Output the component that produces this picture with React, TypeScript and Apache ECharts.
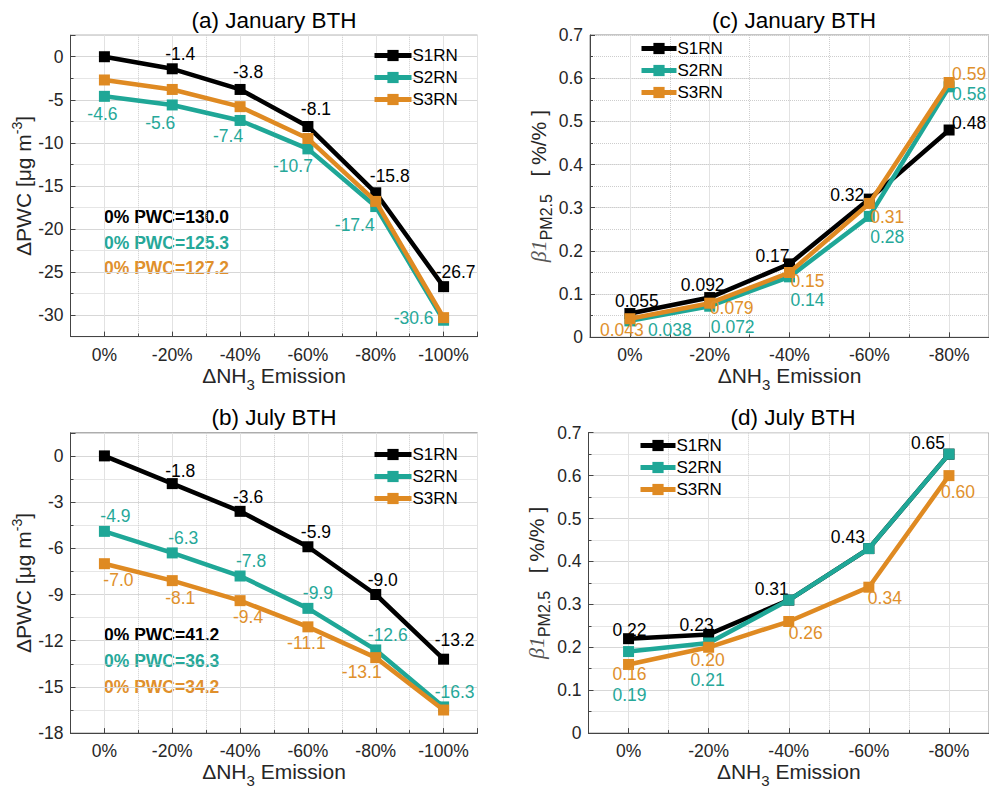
import React, { useEffect, useRef } from 'react';
import * as echarts from 'echarts';

// ---------- data ----------
const CATS_PWC = ['0%', '-20%', '-40%', '-60%', '-80%', '-100%'];
const CATS_BETA = ['0%', '-20%', '-40%', '-60%', '-80%'];
const SERIES_NAMES = ['S1RN', 'S2RN', 'S3RN'];

const JAN_PWC_S1 = [0, -1.4, -3.8, -8.1, -15.8, -26.7];
const JAN_PWC_S2 = [-4.6, -5.6, -7.4, -10.7, -17.4, -30.6];
const JAN_PWC_S3 = [-2.7, -3.8, -5.8, -9.5, -16.8, -30.3];

const JUL_PWC_S1 = [0, -1.8, -3.6, -5.9, -9.0, -13.2];
const JUL_PWC_S2 = [-4.9, -6.3, -7.8, -9.9, -12.6, -16.3];
const JUL_PWC_S3 = [-7.0, -8.1, -9.4, -11.1, -13.1, -16.5];

const JAN_BETA_S1 = [0.055, 0.092, 0.17, 0.32, 0.48];
const JAN_BETA_S2 = [0.038, 0.072, 0.14, 0.28, 0.58];
const JAN_BETA_S3 = [0.043, 0.079, 0.15, 0.31, 0.59];

const JUL_BETA_S1 = [0.22, 0.23, 0.31, 0.43, 0.65];
const JUL_BETA_S2 = [0.19, 0.21, 0.31, 0.43, 0.65];
const JUL_BETA_S3 = [0.16, 0.2, 0.26, 0.34, 0.6];

const PWC0_JAN = [130.0, 125.3, 127.2];
const PWC0_JUL = [41.2, 36.3, 34.2];

const TITLES = ['(a) January BTH', '(b) July BTH', '(c) January BTH', '(d) July BTH'];

// ---------- styles ----------
const FONT = 'Liberation Sans, Arial, Helvetica, sans-serif';
const LINE_COLORS = ['#000000', '#1fa797', '#df8a22'];
const TEXT_COLORS = ['#000000', '#26a899', '#e0902c'];
const TEXT_DARK = '#262626';
const LABEL_SIZE = 17.5;
const TICK_SIZE = 17.5;

type Off = [number, number] | null;
// label centre offset relative to the point (px)
const OFF_A: Off[][] = [
  [null, [8, -15], [8, -17], [8, -17], [14, -17], [12, -15]],
  [[-2, 18], [-12, 18], [-12, 16], [-15, 17], [-21, 18], [-30, -2]],
  [null, null, null, null, null, null],
];
const OFF_B: Off[][] = [
  [null, [8, -13], [8, -14.5], [8, -15], [7, -14.5], [11, -19]],
  [[11, -15], [11, -15], [11, -15], [10, -15], [12, -15], [11, -15]],
  [[14, 16], [8, 17], [8, 16], [-1.5, 16], [-14, 14], null],
];
const OFF_C: Off[][] = [
  [[7, -13], [-7, -12.5], [-17, -8], [-22, -4], [20, -7]],
  [[40, 9], [23, 21], [18, 23.5], [18, 21], [20, 7]],
  [[-8, 11], [22, 5], [18, 8], [18, 14], [20, -9]],
];
const OFF_D: Off[][] = [
  [[1, -9], [-12, -9], [-17, -11], [-21, -12], [-21, -11]],
  [[1, 43], [-1, 37], null, null, null],
  [[1, 10], [-1, 13], [17, 11.5], [16, 10.5], [9, 16]],
];

const PWC_YNAME = '{t|ΔPWC [μg m}{sup|-3}{t|]}';
const BETA_YNAME = '{b|β1}{s|PM2.5}{t|   [ %/% ]}';
const XNAME = '{t|ΔNH}{sub|3}{t| Emission}';

const panels = [
  {
    grid: { left: 70.5, top: 35.2, width: 407, height: 301.4 },
    cats: CATS_PWC,
    series: [JAN_PWC_S1, JAN_PWC_S2, JAN_PWC_S3],
    offsets: OFF_A,
    yMin: -32.5, yMax: 2.5, major: 5, minor: 2.5,
    fmt: (v: number) => v.toFixed(1),
    yName: PWC_YNAME, yNameGap: 29,
    legend: { left: 372, top: 47, itemWidth: 37 },
    titleX: 274, titleY: 8.5,
    ann: PWC0_JAN, annX: 104, annY: [217, 243, 268],
  },
  {
    grid: { left: 70.5, top: 432.8, width: 407, height: 302.2 },
    cats: CATS_PWC,
    series: [JUL_PWC_S1, JUL_PWC_S2, JUL_PWC_S3],
    offsets: OFF_B,
    yMin: -18, yMax: 1.5, major: 3, minor: 1.5,
    fmt: (v: number) => v.toFixed(1),
    yName: PWC_YNAME, yNameGap: 29,
    legend: { left: 372, top: 446, itemWidth: 37 },
    titleX: 274, titleY: 405.5,
    ann: PWC0_JUL, annX: 104, annY: [635, 661, 687],
  },
  {
    grid: { left: 590, top: 35, width: 408.5, height: 302.3 },
    cats: CATS_BETA,
    series: [JAN_BETA_S1, JAN_BETA_S2, JAN_BETA_S3],
    offsets: OFF_C,
    yMin: 0, yMax: 0.7, major: 0.1, minor: 0.05,
    fmt: (v: number) => v.toPrecision(2),
    yName: BETA_YNAME, yNameGap: 36,
    legend: { left: 639, top: 40, itemWidth: 35 },
    titleX: 794, titleY: 8.5,
    ann: null, annX: 0, annY: [],
  },
  {
    grid: { left: 588.5, top: 432.7, width: 408, height: 301.6 },
    cats: CATS_BETA,
    series: [JUL_BETA_S1, JUL_BETA_S2, JUL_BETA_S3],
    offsets: OFF_D,
    yMin: 0, yMax: 0.7, major: 0.1, minor: 0.05,
    fmt: (v: number) => v.toPrecision(2),
    yName: BETA_YNAME, yNameGap: 36,
    legend: { left: 638, top: 437, itemWidth: 35 },
    titleX: 793, titleY: 406,
    ann: null, annX: 0, annY: [],
  },
];

const isMultiple = (v: number, step: number) => Math.abs(v / step - Math.round(v / step)) < 1e-6;
const fmtTick = (v: number, step: number) => {
  if (!isMultiple(v, step)) return '';
  const r = Math.round(v * 1e6) / 1e6;
  return String(r);
};

function buildOption() {
  const grid: any[] = [];
  const xAxis: any[] = [];
  const yAxis: any[] = [];
  const series: any[] = [];
  const legend: any[] = [];
  const title: any[] = [];
  const graphic: any[] = [];

  panels.forEach((p, pi) => {
    grid.push({ ...p.grid, show: true, borderColor: '#8a8a8a', borderWidth: 1, backgroundColor: 'transparent' });
    const n = p.cats.length;
    // category axis: labels, minor ticks and dotted minor grid
    xAxis.push({
      type: 'category', gridIndex: pi, position: 'bottom', data: p.cats, boundaryGap: true,
      axisLine: { show: true, onZero: false, lineStyle: { color: '#444', width: 1 } },
      axisTick: { show: true, inside: true, length: 3, lineStyle: { color: '#444' } },
      splitLine: { show: true, lineStyle: { color: '#cdcdcd', type: 'dotted', width: 1 } },
      axisLabel: { interval: 0, color: TEXT_DARK, fontSize: TICK_SIZE, fontFamily: FONT, margin: 9 },
      name: XNAME, nameLocation: 'middle', nameGap: 21,
      nameTextStyle: {
        color: TEXT_DARK,
        rich: {
          t: { fontSize: 21, fontFamily: FONT, color: TEXT_DARK },
          sub: { fontSize: 15, fontFamily: FONT, color: TEXT_DARK, padding: [18, 0, 0, 0] },
        },
      },
    });
    // value axis: solid major grid at category centres
    xAxis.push({
      type: 'value', gridIndex: pi, position: 'bottom', min: -0.5, max: n - 0.5,
      minInterval: 1, maxInterval: 1,
      axisLine: { show: false, onZero: false },
      axisTick: { show: true, inside: true, length: 5, lineStyle: { color: '#444' } },
      axisLabel: { show: false },
      splitLine: { show: true, lineStyle: { color: '#e2e2e2', type: 'solid', width: 1 } },
    });
    // main y axis
    yAxis.push({
      type: 'value', gridIndex: pi, position: 'left', min: p.yMin, max: p.yMax,
      minInterval: p.major, maxInterval: p.major,
      axisLine: { show: true, onZero: false, lineStyle: { color: '#444', width: 1 } },
      axisTick: { show: true, inside: true, length: 5, lineStyle: { color: '#444' } },
      splitLine: { show: true, lineStyle: { color: '#e2e2e2', type: 'solid', width: 1 } },
      axisLabel: {
        color: TEXT_DARK, fontSize: TICK_SIZE, fontFamily: FONT, margin: 7,
        formatter: (v: number) => fmtTick(v, p.major),
      },
      name: p.yName, nameLocation: 'middle', nameGap: p.yNameGap, nameRotate: 90,
      nameTextStyle: {
        color: TEXT_DARK,
        rich: {
          t: { fontSize: 21, fontFamily: FONT, color: TEXT_DARK },
          sup: { fontSize: 14, fontFamily: FONT, color: TEXT_DARK, padding: [0, 0, 14, 0] },
          b: { fontSize: 22, fontFamily: 'Liberation Serif, Times New Roman, serif', fontStyle: 'italic', color: '#555' },
          s: { fontSize: 16, fontFamily: FONT, color: TEXT_DARK, padding: [16, 0, 0, 0] },
        },
      },
    });
    // minor y axis: dotted minor grid
    yAxis.push({
      type: 'value', gridIndex: pi, position: 'left', min: p.yMin, max: p.yMax, interval: p.minor,
      axisLine: { show: false, onZero: false },
      axisTick: { show: true, inside: true, length: 3, lineStyle: { color: '#444' } },
      axisLabel: { show: false },
      splitLine: { show: true, lineStyle: { color: '#cdcdcd', type: 'dotted', width: 1 } },
    });

    p.series.forEach((vals, k) => {
      series.push({
        type: 'line',
        name: SERIES_NAMES[k],
        xAxisIndex: pi * 2,
        yAxisIndex: pi * 2,
        data: vals.map((v, i) => {
          const off = p.offsets[k][i];
          return off ? { value: v, label: { show: true, offset: off } } : { value: v, label: { show: false } };
        }),
        symbol: 'rect',
        symbolSize: 11,
        showAllSymbol: true,
        lineStyle: { width: 4.5, color: LINE_COLORS[k] },
        itemStyle: { color: LINE_COLORS[k] },
        label: {
          show: true, position: 'inside', color: TEXT_COLORS[k], fontSize: LABEL_SIZE, fontFamily: FONT,
          align: 'center', verticalAlign: 'middle', lineHeight: 13,
          formatter: (prm: any) => p.fmt(prm.value),
        },
        emphasis: { disabled: true },
        z: 3 + k,
      });
    });

    legend.push({
      data: SERIES_NAMES,
      orient: 'vertical',
      left: p.legend.left,
      top: p.legend.top,
      itemWidth: p.legend.itemWidth,
      itemHeight: 14,
      itemGap: 5,
      padding: 0,
      selectedMode: false,
      lineStyle: { width: 5 },
      textStyle: { fontSize: 17, fontFamily: FONT, color: '#000', padding: [0, 0, 0, -4] },
    });

    title.push({
      text: TITLES[pi], left: p.titleX, top: p.titleY, textAlign: 'center', padding: 0,
      textStyle: { fontSize: 22.5, fontWeight: 'normal', fontFamily: FONT, color: '#000' },
    });

    if (p.ann) {
      p.ann.forEach((v, k) => {
        graphic.push({
          type: 'text', x: p.annX, y: p.annY[k],
          style: {
            text: '0% PWC=' + v.toFixed(1), fill: TEXT_COLORS[k], fontSize: 17.5, fontWeight: 'bold',
            fontFamily: FONT, verticalAlign: 'middle', align: 'left',
          },
        });
      });
    }
  });

  return { animation: false, backgroundColor: '#ffffff', grid, xAxis, yAxis, series, legend, title, graphic };
}

export default function App() {
  const ref = useRef<HTMLDivElement>(null);
  useEffect(() => {
    if (!ref.current) return;
    const chart = echarts.init(ref.current, undefined, { renderer: 'svg' });
    chart.setOption(buildOption() as any);
    return () => chart.dispose();
  }, []);
  return (
    <div
      ref={ref}
      style={{ position: 'absolute', left: 0, top: 0, width: 989, height: 789, overflow: 'hidden', background: '#fff' }}
    />
  );
}
